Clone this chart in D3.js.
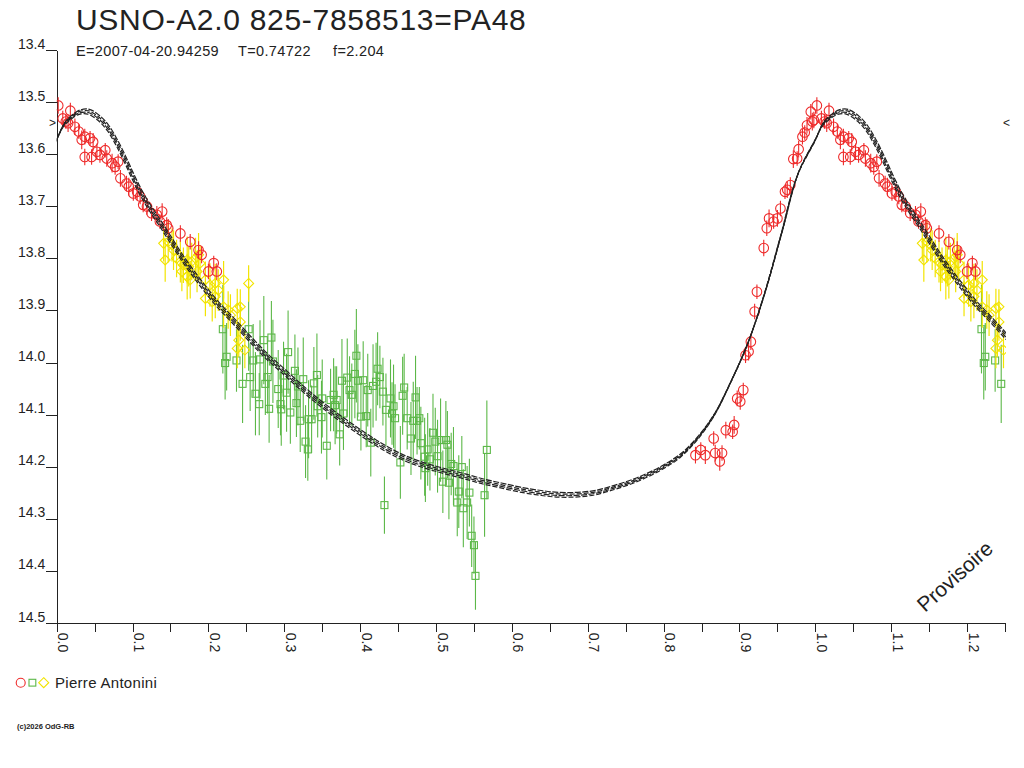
<!DOCTYPE html>
<html><head><meta charset="utf-8">
<script src="https://cdn.jsdelivr.net/npm/d3@7"></script>
<style>
body{margin:0;background:#fff}
svg{display:block}
text{font-family:"Liberation Sans",Arial,sans-serif;fill:#222}
</style>
</head><body>
<svg id="c" width="1024" height="768"></svg>
<script>
// ---------- DATA ----------
const titleText = "USNO-A2.0 825-7858513=PA48";
const subTexts = ["E=2007-04-20.94259", "T=0.74722", "f=2.204"];
const observer = "Pierre Antonini";
const xTicks = [0,0.05,0.1,0.15,0.2,0.25,0.3,0.35,0.4,0.45,0.5,0.55,0.6,0.65,0.7,0.75,0.8,0.85,0.9,0.95,1.0,1.05,1.1,1.15,1.2,1.25];
const xLabels = [0,0.1,0.2,0.3,0.4,0.5,0.6,0.7,0.8,0.9,1.0,1.1,1.2];
const yTicks = [13.4,13.5,13.6,13.7,13.8,13.9,14.0,14.1,14.2,14.3,14.4,14.5];
const maxMark = 13.54;

// red circles
const redPhase = [0.002,0.008,0.012,0.015,0.018,0.024,0.029,0.033,0.037,0.037,0.044,0.046,0.048,0.053,0.057,0.064,0.066,0.073,0.077,0.081,0.084,0.092,0.095,0.101,0.106,0.110,0.114,0.119,0.125,0.132,0.136,0.139,0.145,0.147,0.163,0.176,0.187,0.191,0.200,0.207,0.211,
 0.842,0.849,0.855,0.866,0.868,0.874,0.877,0.882,0.891,0.893,0.897,0.901,0.905,0.908,0.912,0.915,0.920,0.923,0.932,0.936,0.939,0.945,0.950,0.954,0.960,0.963,0.967,0.971,0.976,0.978,0.983,0.986,0.989,0.994,0.996,0.998];
const redMag = [13.506,13.531,13.537,13.540,13.516,13.547,13.556,13.572,13.566,13.605,13.569,13.605,13.576,13.595,13.601,13.592,13.608,13.617,13.624,13.614,13.646,13.656,13.662,13.675,13.672,13.681,13.697,13.700,13.713,13.716,13.729,13.710,13.736,13.742,13.752,13.768,13.784,13.793,13.825,13.809,13.825,
 14.178,14.168,14.178,14.146,14.174,14.190,14.174,14.130,14.133,14.120,14.069,14.075,14.053,13.986,13.979,13.960,13.902,13.864,13.780,13.742,13.723,13.729,13.723,13.704,13.672,13.668,13.659,13.609,13.608,13.590,13.566,13.558,13.544,13.518,13.537,13.534];
const redErr = [0.016,0.015,0.014,0.017,0.015,0.016,0.014,0.018,0.015,0.016,0.014,0.015,0.017,0.016,0.015,0.014,0.016,0.018,0.015,0.014,0.016,0.015,0.017,0.014,0.016,0.015,0.014,0.016,0.015,0.017,0.014,0.016,0.015,0.018,0.016,0.015,0.017,0.016,0.015,0.014,0.016,
 0.016,0.015,0.017,0.014,0.016,0.018,0.015,0.016,0.014,0.017,0.015,0.016,0.014,0.015,0.017,0.016,0.015,0.014,0.016,0.015,0.017,0.014,0.016,0.015,0.014,0.016,0.015,0.017,0.014,0.016,0.015,0.014,0.016,0.015,0.017,0.016];

// green squares
const greenPhase = [0.219,0.222,0.224,0.237,0.245,0.253,0.255,0.259,0.262,0.267,
 0.268,0.273,0.275,0.278,0.280,0.283,0.285,0.292,0.295,0.296,
 0.299,0.303,0.305,0.308,0.314,0.316,0.318,0.321,0.325,0.328,
 0.331,0.332,0.339,0.336,0.343,0.344,0.349,0.350,0.356,0.361,
 0.365,0.367,0.369,0.373,0.376,0.378,0.383,0.386,0.389,0.393,
 0.395,0.397,0.401,0.404,0.408,0.410,0.414,0.417,0.421,0.423,
 0.426,0.430,0.432,0.434,0.440,0.442,0.444,0.446,0.453,0.456,
 0.458,0.462,0.467,0.470,0.473,0.475,0.478,0.480,0.485,0.486,
 0.489,0.492,0.496,0.499,0.502,0.506,0.509,0.513,0.515,0.517,
 0.520,0.523,0.528,0.530,0.534,0.536,0.541,0.544,0.547,0.550,
 0.552,0.564,0.567];
const greenMag = [13.936,14.001,13.989,13.996,14.041,13.936,14.028,13.996,14.060,14.080,
 13.994,13.957,14.041,14.028,14.089,13.952,13.998,14.051,14.080,14.090,
 14.025,14.058,13.980,14.096,14.016,14.078,14.046,14.112,14.032,14.152,
 14.167,14.109,14.040,14.109,14.024,14.084,14.105,14.069,14.160,14.072,
 14.062,14.082,14.072,14.138,14.035,14.098,14.029,14.053,14.062,14.022,
 13.987,14.035,14.104,14.034,14.103,14.053,14.154,14.045,14.037,14.012,
 14.028,14.056,14.274,14.091,14.069,14.098,14.084,14.107,14.192,14.064,
 14.048,14.107,14.146,14.112,14.067,14.112,14.107,14.155,14.181,14.203,
 14.167,14.186,14.135,14.152,14.180,14.149,14.229,14.149,14.158,14.231,
 14.195,14.199,14.269,14.248,14.201,14.280,14.269,14.250,14.333,14.351,
 14.410,14.255,14.168];
const greenErr = [0.085,0.070,0.065,0.060,0.075,0.080,0.065,0.070,0.080,0.060,
 0.075,0.085,0.060,0.070,0.065,0.070,0.080,0.075,0.060,0.070,
 0.065,0.075,0.080,0.060,0.070,0.065,0.075,0.060,0.080,0.070,
 0.060,0.075,0.070,0.065,0.080,0.060,0.070,0.075,0.065,0.060,
 0.070,0.075,0.065,0.060,0.080,0.070,0.075,0.065,0.060,0.085,
 0.090,0.070,0.065,0.075,0.060,0.070,0.065,0.080,0.075,0.070,
 0.060,0.065,0.055,0.070,0.075,0.060,0.080,0.065,0.070,0.075,
 0.065,0.060,0.070,0.075,0.080,0.065,0.060,0.070,0.075,0.065,
 0.070,0.060,0.075,0.065,0.070,0.080,0.060,0.075,0.065,0.070,
 0.060,0.075,0.065,0.070,0.060,0.075,0.070,0.065,0.060,0.055,
 0.065,0.080,0.095];

// yellow diamonds
const yellowPhase = [0.141,0.147,0.152,0.154,0.143,0.158,0.163,0.167,0.172,0.174,0.178,0.183,0.187,0.189,0.165,0.172,0.176,0.185,0.196,0.202,0.209,0.220,0.213,0.196,0.205,0.209,0.253,0.220,0.226,0.238,0.242,0.229,0.242,0.240,0.238,0.248];
const yellowMag = [13.771,13.768,13.774,13.784,13.803,13.800,13.806,13.813,13.803,13.816,13.806,13.800,13.793,13.809,13.825,13.835,13.841,13.825,13.841,13.851,13.848,13.841,13.861,13.877,13.883,13.873,13.848,13.893,13.899,13.896,13.893,13.909,13.922,13.957,13.973,13.976];
const yellowErr = [0.035,0.040,0.032,0.038,0.042,0.036,0.040,0.034,0.045,0.038,0.036,0.040,0.042,0.035,0.038,0.044,0.036,0.040,0.035,0.042,0.038,0.036,0.040,0.034,0.038,0.042,0.035,0.040,0.036,0.038,0.034,0.040,0.036,0.032,0.038,0.035];

// model light curve (one cycle)
const curvePhase = [0,0.010,0.020,0.030,0.042,0.057,0.068,0.079,0.090,0.101,0.112,0.123,0.134,0.145,0.167,0.189,0.211,0.233,0.255,0.277,0.300,0.321,0.343,0.365,0.387,0.409,0.431,0.453,0.475,0.497,0.520,0.541,0.563,0.585,0.610,0.635,0.660,0.685,0.710,0.735,0.760,0.785,0.805,0.823,0.845,0.867,0.889,0.911,0.933,0.955,0.977];
const curveMag = [13.572,13.542,13.528,13.519,13.518,13.532,13.550,13.577,13.609,13.644,13.676,13.703,13.727,13.752,13.802,13.846,13.886,13.920,13.955,13.988,14.018,14.046,14.073,14.098,14.121,14.143,14.163,14.180,14.193,14.203,14.212,14.220,14.229,14.236,14.244,14.250,14.254,14.254,14.250,14.240,14.228,14.212,14.196,14.178,14.145,14.100,14.036,13.963,13.868,13.754,13.638];
// the drawn band consists of several close model solutions
const bandMagOffset = [-0.0045,-0.0015,0.0015,0.0045];
const bandPhaseOffset = [0.0012,0.0004,-0.0004,-0.0012];

// ---------- DRAW ----------
const svg = d3.select("#c");
const x = d3.scaleLinear().domain([0,1.25]).range([56.7,1005]);
const y = d3.scaleLinear().domain([13.4,14.5]).range([50.3,622.7]);
const RED="#ee2a2a", GREEN="#5cb848", YEL="#f2e400", INK="#222";

svg.append("defs").append("clipPath").attr("id","clip")
  .append("rect").attr("x",x(0)).attr("y",30).attr("width",x(1.25)-x(0)+1).attr("height",y(14.5)-30);

// title
svg.append("text").attr("x",76).attr("y",29.5).attr("font-size",30).attr("letter-spacing",0.7).text(titleText);
const subX=[76,238,333];
subTexts.forEach((t,i)=>svg.append("text").attr("x",subX[i]).attr("y",55.5).attr("font-size",14.5).attr("letter-spacing",0.35).text(t));

// y axis
const yAxis = d3.axisLeft(y).tickValues(yTicks).tickSize(10.7).tickSizeOuter(0).tickFormat(d3.format(".1f"));
const gy = svg.append("g").attr("transform",`translate(${x(0)},0)`).call(yAxis);
gy.select(".domain").attr("stroke",INK).attr("shape-rendering","crispEdges");
gy.selectAll(".tick line").attr("stroke",INK).attr("shape-rendering","crispEdges");
gy.selectAll(".tick text").attr("x",-11.5).attr("dy","-0.12em").attr("font-size",14)
  .attr("font-family",'"Liberation Sans",Arial,sans-serif').attr("fill",INK);

// x axis
const xAxis = d3.axisBottom(x).tickValues(xTicks).tickSize(9).tickSizeOuter(0).tickFormat("");
const gx = svg.append("g").attr("transform",`translate(0,${y(14.5)})`).call(xAxis);
gx.select(".domain").attr("stroke",INK).attr("shape-rendering","crispEdges");
gx.selectAll(".tick line").attr("stroke",INK).attr("shape-rendering","crispEdges");
svg.append("g").selectAll("text").data(xLabels).join("text")
  .attr("transform",d=>`translate(${x(d)+1.5},${y(14.5)+10}) rotate(90)`)
  .attr("font-size",14).text(d=>d.toFixed(1));

// max-light markers
svg.append("text").attr("x",49).attr("y",y(maxMark)).attr("dy","0.35em").attr("font-size",12).text(">");
svg.append("text").attr("x",1003).attr("y",y(maxMark)).attr("dy","0.35em").attr("font-size",12).text("<");

// helper to repeat phases
function expand(ph, mg, er){
  const out=[];
  ph.forEach((p,i)=>{
    [0,1].forEach(k=>{ const q=p+k; if(q>=0 && q<=1.25) out.push({p:q,m:mg[i],e:er?er[i]:0}); });
  });
  return out;
}
const plot = svg.append("g").attr("clip-path","url(#clip)");

// green
const G = expand(greenPhase,greenMag,greenErr);
plot.append("g").selectAll("line").data(G).join("line")
  .attr("x1",d=>x(d.p)).attr("x2",d=>x(d.p)).attr("y1",d=>y(d.m-d.e)).attr("y2",d=>y(d.m+d.e))
  .attr("stroke",GREEN).attr("stroke-width",1.1);
plot.append("g").selectAll("rect").data(G).join("rect")
  .attr("x",d=>x(d.p)-3.5).attr("y",d=>y(d.m)-3.5).attr("width",7).attr("height",7)
  .attr("fill","none").attr("stroke",GREEN).attr("stroke-width",1.1);

// yellow
const Yd = expand(yellowPhase,yellowMag,yellowErr);
plot.append("g").selectAll("line").data(Yd).join("line")
  .attr("x1",d=>x(d.p)).attr("x2",d=>x(d.p)).attr("y1",d=>y(d.m-d.e)).attr("y2",d=>y(d.m+d.e))
  .attr("stroke",YEL).attr("stroke-width",1.2);
plot.append("g").selectAll("path").data(Yd).join("path")
  .attr("d",d=>{const cx=x(d.p),cy=y(d.m),r=5;return `M${cx},${cy-r}L${cx+r},${cy}L${cx},${cy+r}L${cx-r},${cy}Z`;})
  .attr("fill","none").attr("stroke",YEL).attr("stroke-width",1.1);

// red
const R = expand(redPhase,redMag,redErr);
plot.append("g").selectAll("line").data(R).join("line")
  .attr("x1",d=>x(d.p)).attr("x2",d=>x(d.p)).attr("y1",d=>y(d.m-d.e)).attr("y2",d=>y(d.m+d.e))
  .attr("stroke",RED).attr("stroke-width",1.1);
plot.append("g").selectAll("circle").data(R).join("circle")
  .attr("cx",d=>x(d.p)).attr("cy",d=>y(d.m)).attr("r",4.8)
  .attr("fill","none").attr("stroke",RED).attr("stroke-width",1.1);

// model curves
const cpts=[];
[0,1].forEach(k=>curvePhase.forEach((p,i)=>{ if(p+k<=1.3) cpts.push([p+k,curveMag[i]]); }));
const line = d3.line().curve(d3.curveCatmullRom.alpha(0.5));
bandMagOffset.forEach((dm,j)=>{
  plot.append("path")
    .attr("d",line(cpts.map(c=>[x(c[0]+bandPhaseOffset[j]),y(c[1]+dm)])))
    .attr("fill","none").attr("stroke",INK).attr("stroke-width",1.2)
    .attr("stroke-dasharray",j%2?"5,2":"6,1.5");
});

// Provisoire
svg.append("text").attr("transform","translate(925,613) rotate(-42)").attr("font-size",21).text("Provisoire");

// legend
const ly=682.7;
svg.append("circle").attr("cx",20.7).attr("cy",ly).attr("r",4.5).attr("fill","none").attr("stroke",RED).attr("stroke-width",1.1);
svg.append("rect").attr("x",29).attr("y",ly-3.4).attr("width",6.8).attr("height",6.8).attr("fill","none").attr("stroke",GREEN).attr("stroke-width",1.1);
svg.append("path").attr("d",`M43.7,${ly-5}L48.7,${ly}L43.7,${ly+5}L38.7,${ly}Z`).attr("fill","none").attr("stroke",YEL).attr("stroke-width",1.1);
svg.append("text").attr("x",55).attr("y",687.5).attr("font-size",15).attr("letter-spacing",0.3).text(observer);

// copyright
svg.append("text").attr("x",17).attr("y",728.5).attr("font-size",7.5).attr("font-weight","bold").text("(c)2026 OdG-RB");
</script>
</body></html>
